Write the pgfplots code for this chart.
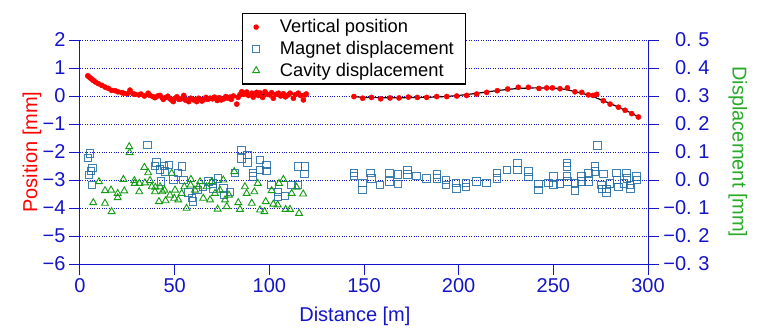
\documentclass[border=0pt]{standalone}
\usepackage{pgfplots}
\pgfplotsset{compat=1.18}
\usepackage{fontspec}
\setmainfont{Liberation Sans}
\definecolor{axblue}{RGB}{20,20,200}
\definecolor{magblue}{RGB}{30,105,165}
\definecolor{cavgreen}{RGB}{20,155,20}
\definecolor{labgreen}{RGB}{40,170,40}
\begin{document}
\begin{tikzpicture}
\path[use as bounding box] (-80pt,-63pt) rectangle (679pt,264pt);
\begin{axis}[
  at={(0,0)}, anchor=south west,
  scale only axis, width=568pt, height=224pt,
  xmin=0, xmax=300, ymin=-6, ymax=2,
  axis x line*=bottom, axis y line*=left,
  axis line style={axblue, line width=1pt, -},
  tick align=outside, major tick length=11pt,
  tick style={axblue, line width=1pt},
  xtick={0,50,100,150,200,250,300},
  xticklabels={0,50,100,150,200,250,300},
  ytick={-6,-5,-4,-3,-2,-1,0,1,2},
  yticklabels={−6,−5,−4,−3,−2,−1,0,1,2},
  ymajorgrids,
  grid style={axblue, dotted, line width=0.8pt},
  every tick label/.append style={font=\fontsize{20}{24}\selectfont, text=axblue},
  xlabel={Distance [m]}, ylabel={Position [mm]},
  every axis x label/.style={at={(axis description cs:0.484,-0.232)}, anchor=center, font=\fontsize{20}{24}\selectfont, text=axblue},
  every axis y label/.style={at={(axis description cs:-0.0845,0.5)}, rotate=90, anchor=center, font=\fontsize{20}{24}\selectfont, text=red},
  clip=false,
]
\addplot[only marks, mark=*, mark size=2.6pt, red] coordinates {
(4.1,0.72)(4.8,0.68)(5.5,0.64)(6.3,0.6)(7,0.56)(8.2,0.5)(9.7,0.44)(11.5,0.38)(13.2,0.32)(15,0.27)
(16.7,0.2)(18.5,0.19)(20,0.15)(22,0.12)(23,0.1)(25,0.08)(26.4,0.21)(28,0.08)(29,0.06)(31,0.04)
(32.2,0.07)(34,0.0)(36,0.1)(37,0.02)(38.5,-0.02)(39.6,-0.06)(41,0.0)(42.3,0.02)(43.5,-0.07)(44,-0.12)
(45.5,-0.05)(46.4,-0.01)(47.5,-0.1)(48.5,-0.15)(49.3,-0.2)(50.2,-0.08)(51.2,-0.03)(52.3,-0.12)(53.5,-0.1)(54.8,0.02)
(55.8,-0.15)(57.4,-0.2)(58.5,-0.08)(60,-0.14)(61.6,-0.2)(62.7,-0.08)(63.5,-0.12)(64.4,-0.18)(65.1,-0.14)(66.5,-0.05)
(67.5,-0.12)(68.7,-0.08)(70,-0.1)(71,-0.04)(72.5,-0.16)(73.5,-0.06)(74.6,-0.14)(76,-0.1)(77,-0.02)(78.1,-0.08)
(79.2,-0.04)(79.9,-0.12)(81,0.0)(82.8,-0.29)(83.5,-0.05)(84.5,0.05)(85.4,0.15)(86.5,0.06)(88,0.14)(89,0.02)
(90.7,0.1)(91.5,-0.04)(92.5,0.08)(93.3,0.13)(94.2,0.02)(95.1,0.11)(96.5,-0.05)(97.7,0.15)(99,0.06)(100.3,0.04)
(101.2,0.12)(102.1,-0.08)(103.5,0.06)(104.8,0.1)(106,0.0)(107.4,0.08)(108.5,-0.03)(110,0.04)(111,0.1)(112.7,-0.08)
(113.8,0.05)(115.3,0.1)(116.5,0.02)(118,-0.14)(118.9,0.04)(119.5,0.07)
(144.7,-0.02)(149.3,-0.08)(154,-0.05)(158.8,-0.1)(163.7,-0.07)(168.5,-0.07)(173.4,-0.04)(178.2,-0.05)(183.1,-0.05)(188.4,-0.02)
(193.7,-0.02)(199,0.0)(204.2,0.02)(209.5,0.07)(214.8,0.13)(220.4,0.19)(225.9,0.25)(231.5,0.31)(236.8,0.31)(242.4,0.27)
(246.5,0.29)(249.5,0.29)(253.5,0.26)(257.4,0.29)(261.4,0.15)(265,0.13)(268.5,0.04)(271,0.02)(272.9,0.06)(276.4,-0.17)
(280,-0.29)(284.4,-0.4)(287.9,-0.51)(291.4,-0.63)(294.9,-0.75)
};
\addplot[black, line width=1.2pt, smooth] coordinates {
(4,0.72)(8,0.52)(12,0.37)(16,0.26)(20,0.18)(25,0.1)(30,0.05)(35,0.01)(40,-0.02)(50,-0.06)
(60,-0.07)(70,-0.05)(80,-0.01)(90,0.03)(100,0.05)(110,0.06)(119,0.07)
};
\addplot[black, line width=1.2pt, smooth] coordinates {
(145,-0.02)(150,-0.05)(160,-0.06)(170,-0.06)(180,-0.05)(190,-0.03)(200,0.02)(210,0.1)(220,0.19)(230,0.26)
(240,0.29)(250,0.28)(255,0.25)(260,0.18)(265,0.1)(270,0.0)(275,-0.13)(280,-0.27)(285,-0.42)(290,-0.57)(295,-0.75)
};
\end{axis}
\begin{axis}[
  at={(0,0)}, anchor=south west,
  scale only axis, width=568pt, height=224pt,
  xmin=0, xmax=300, ymin=-0.3, ymax=0.5,
  axis x line=none, axis y line*=right,
  axis line style={axblue, line width=1pt, -},
  tick align=outside, major tick length=11pt,
  tick style={axblue, line width=1pt},
  ytick={-0.3,-0.2,-0.1,0,0.1,0.2,0.3,0.4,0.5},
  yticklabels={−0.~3,−0.~2,−0.~1,0.~0,0.~1,0.~2,0.~3,0.~4,0.~5},
  yticklabel style={font=\fontsize{20}{24}\selectfont, text=axblue, text width=47pt, align=right},
  ylabel={Displacement [mm]},
  every axis y label/.style={at={(axis description cs:1.158,0.5)}, rotate=-90, anchor=center, font=\fontsize{20}{24}\selectfont, text=labgreen},
  legend style={at={(axis description cs:0.285,1.12)}, anchor=north west, draw=black, line width=1.2pt, fill=white,
    font=\fontsize{18.3}{22}\selectfont, row sep=3pt, inner xsep=10pt, inner ysep=4pt,
    /tikz/every odd column/.append style={column sep=18pt}},
  legend cell align=left,
  clip=false,
]
\addlegendimage{only marks, mark=*, mark size=2.1pt, red}
\addlegendentry{Vertical position}
\addplot[only marks, mark=square, mark size=3.7pt, magblue, mark options={line width=1pt, draw opacity=0.85}] coordinates {
(5.3,0.095)(4.1,0.078)(6.5,0.042)(5.8,0.033)(4.8,0.018)(6.2,-0.018)(35.7,0.125)(40.5,0.062)(39.6,0.05)(42.3,0.038)
(44.5,0.05)(47,0.054)(44.9,0.03)(42.8,-0.006)(49.3,0.002)(54,0.048)(51.9,0.026)(54.6,0.0)(57.2,-0.045)(59.3,-0.065)
(59.8,-0.077)(62.1,-0.036)(65.1,-0.024)(67.8,-0.006)(70.4,-0.03)(70.4,-0.012)(73,0.006)(75.7,-0.03)(76.2,-0.054)(79.2,-0.042)
(81.9,0.024)(85.4,0.107)(85.4,0.077)(88.5,0.089)(88.5,0.062)(95.1,0.071)(98.6,0.054)(98.6,0.033)(95.1,0.036)(91.5,0.024)
(91.5,0.012)(101.2,-0.018)(104.7,-0.042)(104.7,-0.06)(108.3,-0.057)(111.8,-0.018)(115,-0.018)(115,0.048)(118.8,0.048)(118.5,0.021)
(144.7,0.024)(144.7,0.014)(149.3,-0.01)(149.3,-0.036)(153.5,0.024)(154,0.006)(158.5,-0.018)(163.4,0.024)(163.4,-0.006)(168.1,0.02)
(168.1,-0.014)(172.9,0.036)(172.9,0.02)(177.8,0.015)(183.1,0.006)(188.4,0.02)(188.4,0.006)(193.3,0.0)(193.3,-0.018)(198.6,-0.01)
(198.9,-0.03)(203.9,-0.01)(203.9,-0.024)(209.5,-0.006)(214.8,-0.01)(220.4,0.024)(220.4,0.006)(225.4,0.036)(231,0.06)(231,0.036)
(236.8,0.03)(236.8,0.01)(242.1,-0.014)(242.1,-0.036)(247.4,-0.01)(250,0.012)(250,-0.018)(253.5,-0.012)(257.1,0.06)(257.1,0.048)
(257.1,0.014)(257.5,-0.006)(261.4,-0.012)(261.4,-0.038)(264.8,0.012)(264.8,-0.006)(268.5,0.024)(268.5,-0.006)(272,0.048)(272,0.03)
(273.3,0.123)(275.4,-0.018)(275.6,-0.033)(276.4,0.021)(278,-0.033)(278,-0.045)(280,-0.012)(283.4,0.024)(283.6,0.0)(284.4,-0.026)
(287.3,-0.012)(288.6,0.024)(288.8,0.006)(290.5,-0.018)(290.7,-0.03)(294,0.012)(294.2,0.0)
};
\addlegendentry{Magnet displacement}
\addplot[only marks, mark=triangle, mark size=4pt, cavgreen, mark options={line width=0.9pt}] coordinates {
(26,0.119)(26.2,0.098)(34,0.045)(36,0.026)(22.9,0.002)(10,-0.006)(13.2,-0.038)(16.4,-0.036)(19.9,-0.048)(19.9,-0.063)
(23.4,-0.039)(7,-0.081)(13.2,-0.083)(16.7,-0.113)(28.7,-0.002)(28.9,-0.012)(31.3,-0.012)(31.3,-0.042)(34.3,-0.01)(37,-0.002)
(37.9,-0.024)(39.6,-0.042)(39.8,-0.026)(42.3,-0.024)(43.5,-0.042)(41.7,-0.077)(45.2,-0.074)(48.4,0.024)(44.6,-0.036)(47.5,-0.054)
(50.2,-0.036)(49.8,-0.065)(51.9,-0.071)(53.7,-0.048)(55.1,-0.024)(56.3,-0.101)(58.6,0.002)(58.4,-0.018)(60.7,-0.036)(62.5,-0.024)
(63.4,-0.006)(66.9,-0.024)(65.1,-0.065)(68.7,-0.071)(69.6,-0.006)(71.3,-0.048)(72.7,-0.104)(73.9,-0.036)(75.7,0.0)(76.6,-0.071)
(77.5,-0.095)(78.7,-0.054)(81.5,0.03)(83.6,-0.081)(84.5,-0.105)(87.1,-0.024)(88,-0.048)(92.1,-0.042)(93.9,-0.012)(90.7,-0.083)
(95.1,-0.107)(97.4,-0.113)(98.1,-0.077)(101.2,-0.038)(102.1,-0.086)(104.4,-0.089)(105.1,-0.012)(107.4,0.002)(108.6,-0.105)(110.9,-0.105)
(111.8,-0.048)(114.4,-0.026)(115.7,-0.119)(117.9,-0.05)
};
\addlegendentry{Cavity displacement}
\end{axis}
\end{tikzpicture}
\end{document}
